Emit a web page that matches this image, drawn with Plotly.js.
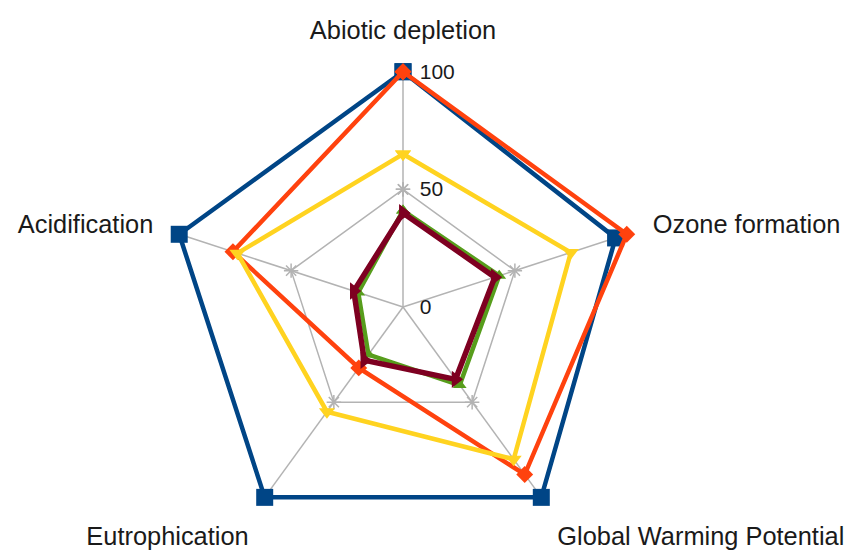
<!DOCTYPE html>
<html>
<head>
<meta charset="utf-8">
<script src="https://cdn.plot.ly/plotly-3.0.1.min.js"></script>
<style>html,body{margin:0;padding:0;background:#fff;}#chart{width:851px;height:551px;}</style>
</head>
<body>
<div id="chart"></div>
<script>
var categories = ["Abiotic depletion", "Ozone formation", "Global Warming Potential", "Eutrophication", "Acidification"];
var seriesBlue   = [100, 95, 100, 100, 100];
var seriesOrange = [100, 100, 88, 32, 76];
var seriesYellow = [65, 75, 80, 55, 74];
var seriesGreen  = [41, 43, 41, 25, 20];
var seriesRed    = [40, 41, 38, 28, 22];
var gridRing     = [50, 50, 50, 50, 50];
var gridCenter   = [0, 0, 0, 0, 0];
var radialTicks  = [0, 50, 100];
var radialLabels = ["0", "50", "100"];

function closed(a){ return a.concat([a[0]]); }
var theta = closed(categories);
var gray = '#b3b3b3';

function series(vals, color, symbol, msize, lw){
  return {
    type: 'scatterpolar', mode: 'lines+markers',
    r: closed(vals), theta: theta,
    line: {color: color, width: lw},
    marker: {color: color, symbol: symbol, size: msize},
    hoverinfo: 'skip', cliponaxis: false
  };
}

var data = [
  {type:'scatterpolar', mode:'lines+markers', r: closed(gridRing), theta: theta,
   line:{color: gray, width:1.5},
   marker:{symbol:'asterisk-open', size:12, color: gray, line:{color: gray, width:1.5}},
   hoverinfo:'skip'},
  {type:'scatterpolar', mode:'markers', r: gridCenter, theta: categories,
   marker:{symbol:'asterisk-open', size:16, color: gray, line:{color: gray, width:2.5}},
   hoverinfo:'skip'},
  series(seriesBlue, '#004586', 'square', 17, 4.5),
  series(seriesOrange, '#ff420e', 'diamond', 13, 4.5),
  series(seriesYellow, '#ffd320', 'triangle-down', 14, 4.5),
  series(seriesGreen, '#579d1c', 'triangle-up', 12, 4.5),
  series(seriesRed, '#7e0021', 'triangle-right', 15, 5.5)
];

var layout = {
  width: 851, height: 551,
  margin: {l: 0, r: 45, t: 67, b: 4},
  paper_bgcolor: '#fff',
  showlegend: false,
  font: {family: '"Liberation Sans", Arial, sans-serif', color: '#1a1a1a'},
  polar: {
    domain: {x: [0, 1], y: [0, 1]},
    bgcolor: 'rgba(0,0,0,0)',
    gridshape: 'linear',
    angularaxis: {
      type: 'category', categoryarray: categories,
      direction: 'clockwise', rotation: 90,
      showline: false, showgrid: true, gridcolor: gray, gridwidth: 1.5,
      ticks: 'outside', ticklen: 17, tickcolor: 'rgba(0,0,0,0)',
      tickfont: {size: 25.4, color: '#1a1a1a'}
    },
    radialaxis: {
      range: [0, 102], angle: 90,
      tickvals: radialTicks, ticktext: radialLabels,
      showgrid: false, showline: false,
      ticks: 'outside', ticklen: 12, tickcolor: 'rgba(0,0,0,0)',
      tickangle: 90,
      tickfont: {size: 21, color: '#1a1a1a'}
    }
  }
};

Plotly.newPlot('chart', data, layout, {staticPlot: true});
</script>
</body>
</html>
